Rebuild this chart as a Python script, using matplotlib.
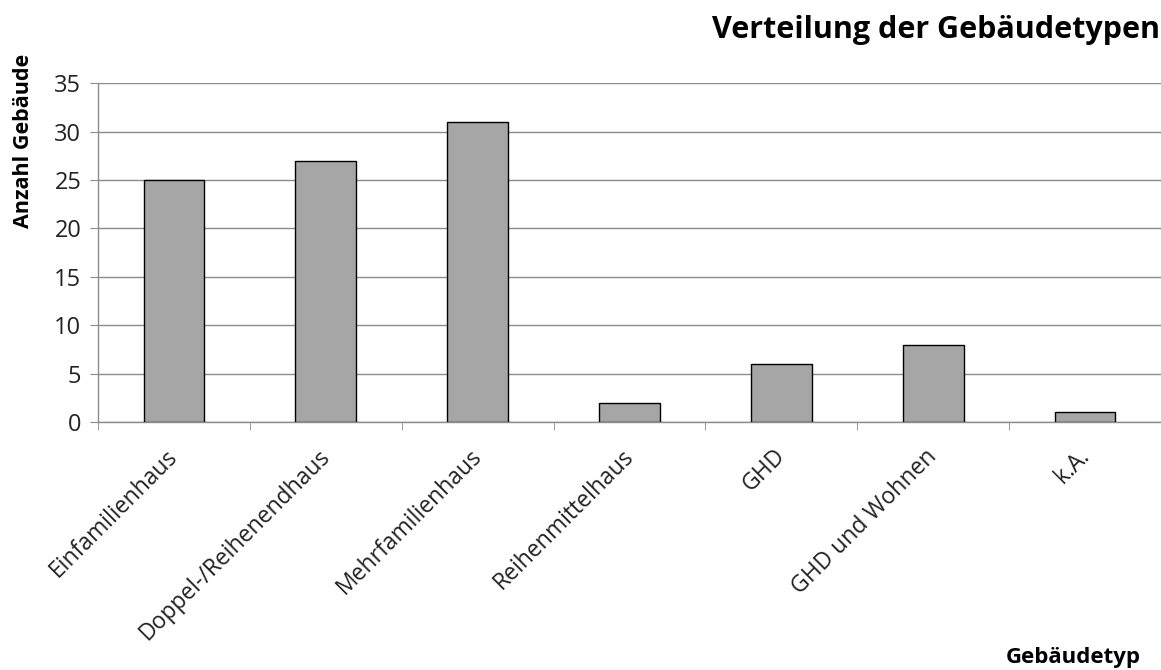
import numpy as np
import matplotlib.pyplot as plt
import matplotlib as mpl
from matplotlib.transforms import ScaledTranslation

mpl.rcParams.update({
    "font.family": "Open Sans",
    "font.size": 12,
})

categories = ["Einfamilienhaus", "Doppel-/Reihenendhaus", "Mehrfamilienhaus",
              "Reihenmittelhaus", "GHD", "GHD und Wohnen", "k.A."]
counts = [25, 27, 31, 2, 6, 8, 1]
yticks = [0, 5, 10, 15, 20, 25, 30, 35]

GRID = "#8c8c8c"

fig = plt.figure(figsize=(11.61, 6.70), dpi=100)
ax = fig.add_axes([0.0844, 0.370, 0.9156, 0.506])

x = np.arange(len(categories))
ax.bar(x, counts, width=0.4, color="#a6a6a6", edgecolor="black",
       linewidth=1.0, zorder=3)

ax.set_xlim(-0.5, len(categories) - 0.5)
ax.set_ylim(0, 35)
ax.set_yticks(yticks)
ax.grid(axis="y", color=GRID, linewidth=1.0, zorder=0)

for side in ["top", "right"]:
    ax.spines[side].set_visible(False)
for side in ["left", "bottom"]:
    ax.spines[side].set_color(GRID)
    ax.spines[side].set_linewidth(1.0)

ax.tick_params(axis="y", length=6, color=GRID, labelsize=17,
               labelcolor="#222222", pad=6)
ax.set_xticks(x)
ax.set_xticklabels(categories, rotation=45, ha="right",
                   rotation_mode="anchor", fontsize=16.5, color="#222222")
ax.tick_params(axis="x", which="major", length=0, pad=16)
ax.set_xticks(np.arange(len(categories) + 1) - 0.5, minor=True)
ax.tick_params(axis="x", which="minor", length=6, color=GRID)

# shift rotated labels a little left, like the Excel original
shift = ScaledTranslation(-8 / 100, 0, fig.dpi_scale_trans)
for lbl in ax.get_xticklabels():
    lbl.set_transform(lbl.get_transform() + shift)

fig.text(0.999, 0.955, "Verteilung der Gebäudetypen", ha="right",
         va="center", fontsize=22, fontweight="bold")
fig.text(0.020, 0.79, "Anzahl Gebäude", rotation=90, ha="center",
         va="center", fontsize=15.5, fontweight="bold")
fig.text(0.9246, 0.019, "Gebäudetyp", ha="center", va="center",
         fontsize=16, fontweight="bold")

fig.savefig("out.png", dpi=100)
